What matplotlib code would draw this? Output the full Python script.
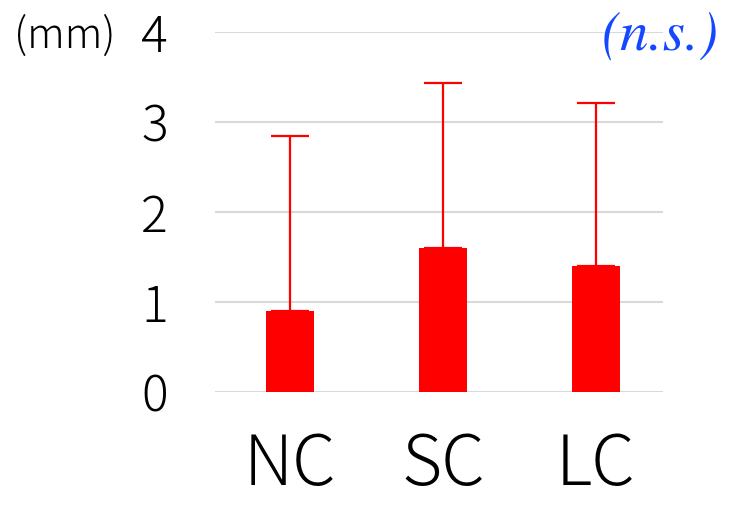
import matplotlib
matplotlib.use("Agg")
import matplotlib.pyplot as plt
import numpy as np

groups = ["NC", "SC", "LC"]
means = [0.9, 1.6, 1.4]
upper_err = [1.94, 1.83, 1.81]   # top of whisker minus bar height
yticks = [0, 1, 2, 3, 4]

plt.rcParams['font.family'] = ['Noto Sans CJK JP', 'DejaVu Sans']
plt.rcParams['font.weight'] = 'light'

fig = plt.figure(figsize=(7.33, 5.05), dpi=100)
ax = fig.add_axes([215 / 733, 113 / 505, 448 / 733, 360 / 505])

x = np.arange(len(groups))
ax.bar(x, means, width=0.314, color='#ff0000', zorder=3)
ax.errorbar(x, means, yerr=[np.zeros(len(means)), upper_err], fmt='none',
            ecolor='#ff0000', elinewidth=1.6, capsize=14, capthick=1.6, zorder=3)

ax.set_ylim(0, 4)
ax.set_xlim(-0.49, 2.44)
ax.set_yticks(yticks)
ax.set_yticklabels([str(t) for t in yticks], fontsize=36)
ax.set_xticks(x)
ax.set_xticklabels(groups, fontsize=50)
ax.tick_params(axis='y', length=0, pad=34)
ax.tick_params(axis='x', length=0, pad=27)
ax.yaxis.grid(True, color='#d9d9d9', linewidth=1.5, zorder=0)
for s in ax.spines.values():
    s.set_visible(False)

fig.text(14 / 733, 1 - 36 / 505, "(mm)", fontsize=30, va='center', ha='left')
fig.text(719 / 733, 1 - 37 / 505, "(n.s.)", fontsize=41, va='center', ha='right',
         family='STIXGeneral', style='italic', color='#1447ff')

fig.savefig("out.png", dpi=100)
